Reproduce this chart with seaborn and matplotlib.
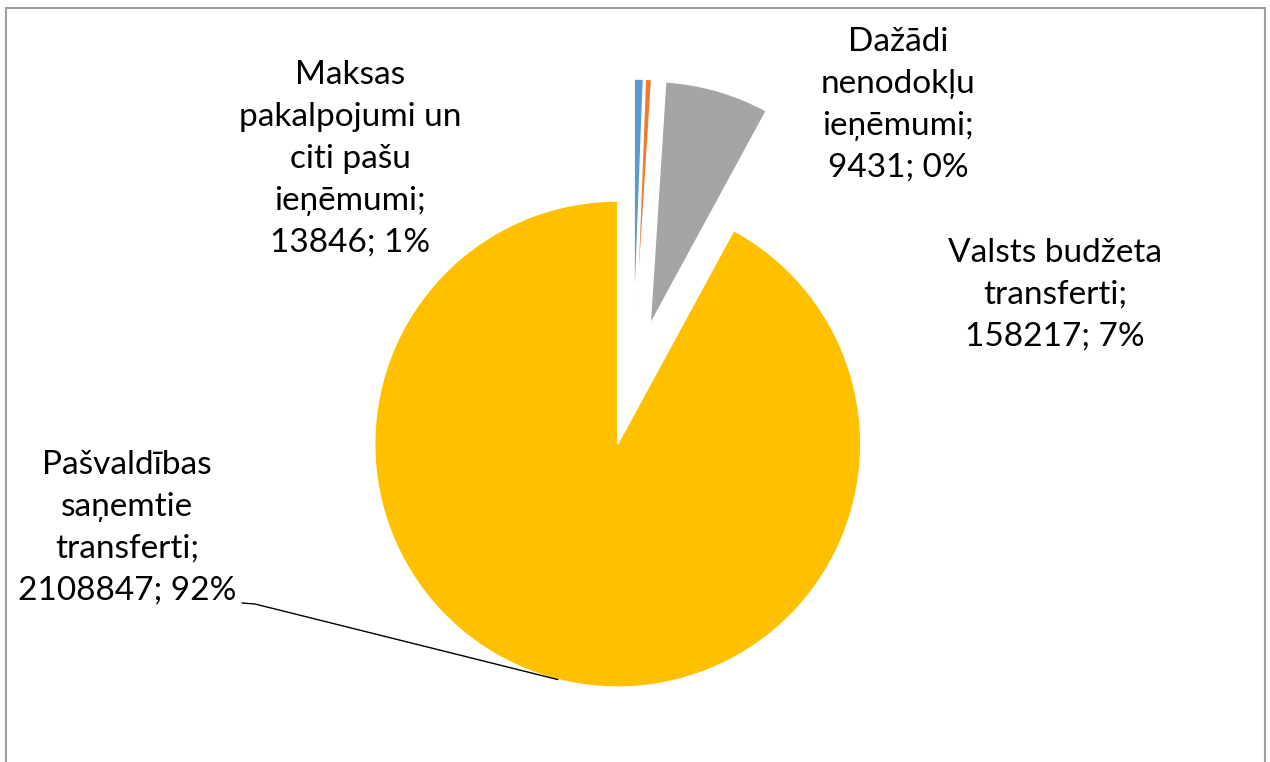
import matplotlib
matplotlib.use('Agg')
import matplotlib.pyplot as plt
import numpy as np
import seaborn as sns
from matplotlib.patches import Rectangle

# data
categories = ['Maksas\npakalpojumi un\nciti pašu\nieņēmumi',
              'Dažādi\nnenodokļu\nieņēmumi',
              'Valsts budžeta\ntransferti',
              'Pašvaldības\nsaņemtie\ntransferti']
values = [13846, 9431, 158217, 2108847]
colors = ['#5B9BD5', '#ED7D31', '#A5A5A5', '#FFC000']

sns.set_theme(style='white')
plt.rcParams['font.family'] = ['Lato', 'DejaVu Sans']

W, H = 1270, 762
fig = plt.figure(figsize=(12.7, 7.62), dpi=100)
ax = fig.add_axes([0, 0, 1, 1])

radius = 243
center = (633, H - 384)
wedges, _ = ax.pie(values, colors=colors, startangle=90, counterclock=False,
                   radius=radius, center=center,
                   explode=[0.255 * radius] * len(values),
                   wedgeprops=dict(edgecolor='white', linewidth=1))
ax.set_xlim(0, W)
ax.set_ylim(0, H)
ax.set_aspect('equal')
ax.axis('off')

total = sum(values)
labels = [f'{c};\n{v}; {round(v / total * 100)}%' for c, v in zip(categories, values)]
# label positions (pixel centres)
label_pos = [(350, 159), (898, 105), (1055, 295), (127, 528)]
for lab, (x, y) in zip(labels, label_pos):
    ax.text(x, H - y, lab, ha='center', va='center', multialignment='center',
            fontsize=24, color='black', linespacing=1.5)

# leader line for the big slice
w = wedges[3]
tm = np.deg2rad((w.theta1 + w.theta2) / 2)
px = w.center[0] + w.r * np.cos(tm)
py = w.center[1] + w.r * np.sin(tm)
ax.plot([px, 255, 242], [py, H - 604, H - 603], color='black', lw=1)

fig.add_artist(Rectangle((6 / W, -0.01), (1265 - 6) / W, (H - 8) / H + 0.01,
                         transform=fig.transFigure, fill=False,
                         edgecolor='#a0a0a0', lw=1.5))

fig.savefig('out.png', dpi=100)
